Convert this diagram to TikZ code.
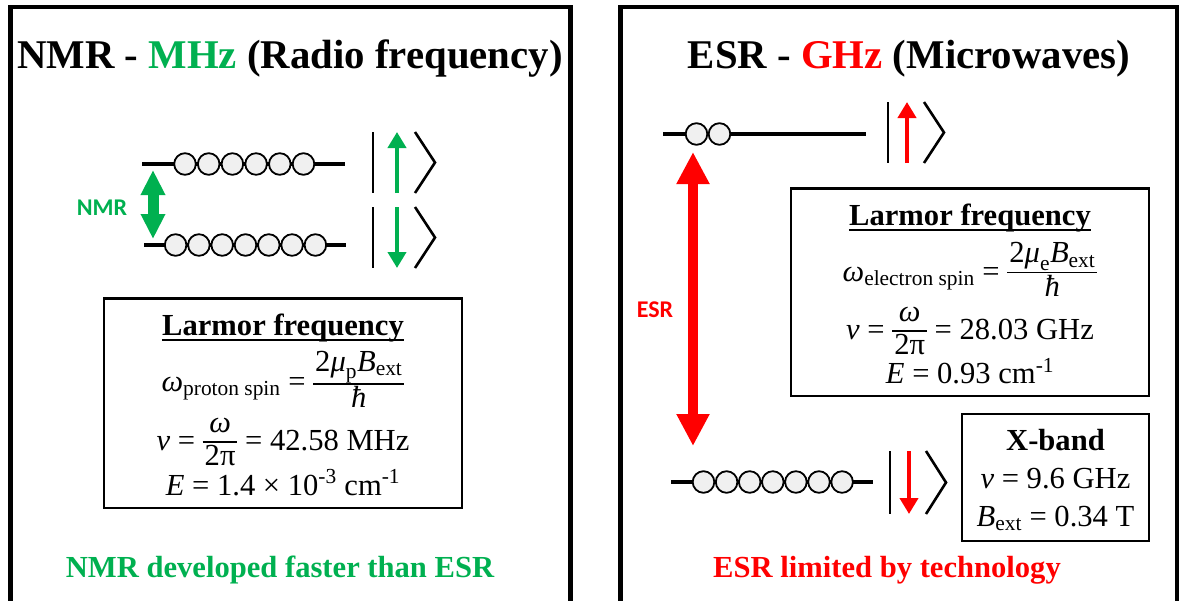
\documentclass[tikz,border=0pt]{standalone}
\usepackage{fix-cm}
\usepackage{amsmath}
\usepackage{fontspec}
\setmainfont{Liberation Serif}
\newfontfamily\tagsans{Carlito}
\usetikzlibrary{arrows.meta}
\definecolor{NmrGreen}{RGB}{0,176,80}
\definecolor{EsrRed}{RGB}{255,0,0}
\definecolor{BeadGray}{RGB}{240,240,240}
% compact fraction, numerator over a rule over denominator
\newcommand{\stackfrac}[2]{$\vcenter{\hbox{\setlength{\arrayrulewidth}{1.6pt}\renewcommand{\arraystretch}{0.85}%
  \begin{tabular}{@{\hspace{2pt}}c@{\hspace{2pt}}}#1\\\hline\rule{0pt}{23pt}#2\end{tabular}}}$}

\begin{document}
\begin{tikzpicture}[x=1pt, y=-1pt, every node/.style={font=\fontsize{30.6}{36}\selectfont, inner sep=0pt},
  panel/.style={line width=4.5pt},
  headline/.style={anchor=base, font=\fontsize{40.8}{46}\selectfont\bfseries},
  boldline/.style={anchor=base, font=\fontsize{30.6}{36}\selectfont\bfseries},
  tagtext/.style={font=\tagsans\fontsize{24}{28}\selectfont\bfseries},
  level/.style={line width=4pt},
  bead/.style={circle, draw, line width=1.8pt, fill=BeadGray, minimum size=21.6pt},
  ketline/.style={line width=2.6pt, line join=miter},
  ketarrow/.style={line width=4pt, -{Triangle[width=18pt,length=16pt]}},
  infobox/.style={draw, line width=2.6pt}]
\useasboundingbox (0,0) rectangle (1181,600);

% two panels
\draw[panel] (10.5,7) rectangle (570.5,640);
\draw[panel] (620.5,7) rectangle (1177,640);
\node[headline] (nmrtitle) at (290,68) {NMR - \textcolor{NmrGreen}{MHz} (Radio frequency)};
\node[headline] (esrtitle) at (909,68) {ESR - \textcolor{EsrRed}{GHz} (Microwaves)};

% NMR levels
\draw[level] (142,164) -- (345,164);
\foreach \i in {0,...,5} \node[bead] (nup\i) at (185+23.7*\i,164) {};
\draw[level] (144,245) -- (346,245);
\foreach \i in {0,...,6} \node[bead] (ndown\i) at (175.6+23.3*\i,245) {};

\coordinate (nmrtop) at (153,170);
\coordinate (nmrbot) at (153,239);
\draw[NmrGreen, line width=11pt, {Triangle[width=23pt,length=25pt]}-{Triangle[width=23pt,length=25pt]}] (nmrtop) -- (nmrbot);
\node[tagtext, text=NmrGreen] (nmrtag) at (102,208) {NMR};

\draw[ketline] (373,132) -- (373,193);
\draw[ketline] (415,132) -- (435,162.5) -- (415,193);
\draw[ketarrow, NmrGreen] (397,193) -- (397,132);
\draw[ketline] (373,207) -- (373,268);
\draw[ketline] (415,207) -- (435,237.5) -- (415,268);
\draw[ketarrow, NmrGreen] (397,207) -- (397,268);

\node[infobox, minimum width=358pt, minimum height=209.5pt] (nmrbox) at (283,403.25) {};
\node[boldline] (nmrlarmor) at (283,335.5) {Larmor frequency};
\draw[line width=2pt] ([yshift=-4pt]nmrlarmor.base west) -- ([yshift=-4pt]nmrlarmor.base east);
\node[anchor=base] (nmromega) at (283,391) {\textit{ω}$_{\text{proton spin}}$ = \stackfrac{2$\textit{μ}_{\text{p}}\textit{B}_{\text{ext}}$}{\textit{ħ}}};
\node[anchor=base] (nmrfreq) at (283,450.5) {\textit{v} = \stackfrac{\textit{ω}}{2π} = 42.58 MHz};
\node[anchor=base] (nmrenergy) at (283,495) {\textit{E} = 1.4 × 10\textsuperscript{-3} cm\textsuperscript{-1}};

\node[boldline, text=NmrGreen] (nmrnote) at (280,577) {NMR developed faster than ESR};

% ESR levels
\draw[level] (663,134) -- (866,134);
\foreach \i in {0,1} \node[bead] (eup\i) at (696.5+23*\i,134) {};
\draw[level] (671,482) -- (873,482);
\foreach \i in {0,...,6} \node[bead] (edown\i) at (703.5+23.1*\i,482) {};

\coordinate (esrtop) at (693,152);
\coordinate (esrbot) at (693,446);
\draw[EsrRed, line width=10pt, {Triangle[width=31pt,length=32pt]}-{Triangle[width=31pt,length=32pt]}] (esrtop) -- (esrbot);
\node[tagtext, text=EsrRed] (esrtag) at (655,310) {ESR};

\draw[ketline] (888,102) -- (888,163);
\draw[ketline] (924,102) -- (944,132.5) -- (924,163);
\draw[ketarrow, EsrRed] (907,163) -- (907,102);
\draw[ketline] (890,451) -- (890,514);
\draw[ketline] (926,451) -- (946,482.5) -- (926,514);
\draw[ketarrow, EsrRed] (909,451) -- (909,514);

\node[infobox, minimum width=358pt, minimum height=207.5pt] (esrbox) at (970,292.25) {};
\node[boldline] (esrlarmor) at (970,225.5) {Larmor frequency};
\draw[line width=2pt] ([yshift=-4pt]esrlarmor.base west) -- ([yshift=-4pt]esrlarmor.base east);
\node[anchor=base] (esromega) at (970,281) {\textit{ω}$_{\text{electron spin}}$ = \stackfrac{2$\textit{μ}_{\text{e}}\textit{B}_{\text{ext}}$}{\textit{ħ}}};
\node[anchor=base] (esrfreq) at (970,339.5) {\textit{v} = \stackfrac{\textit{ω}}{2π} = 28.03 GHz};
\node[anchor=base] (esrenergy) at (970,383.5) {\textit{E} = 0.93 cm\textsuperscript{-1}};

\node[infobox, minimum width=187pt, minimum height=127pt] (xbandbox) at (1055.5,477.5) {};
\node[boldline] (xband) at (1055.5,450) {X-band};
\node[anchor=base] (xbandfreq) at (1055.5,488) {\textit{v} = 9.6 GHz};
\node[anchor=base] (xbandfield) at (1055.5,526) {$\textit{B}_{\text{ext}}$ = 0.34 T};

\node[boldline, text=EsrRed] (esrnote) at (887,577) {ESR limited by technology};
\end{tikzpicture}
\end{document}
